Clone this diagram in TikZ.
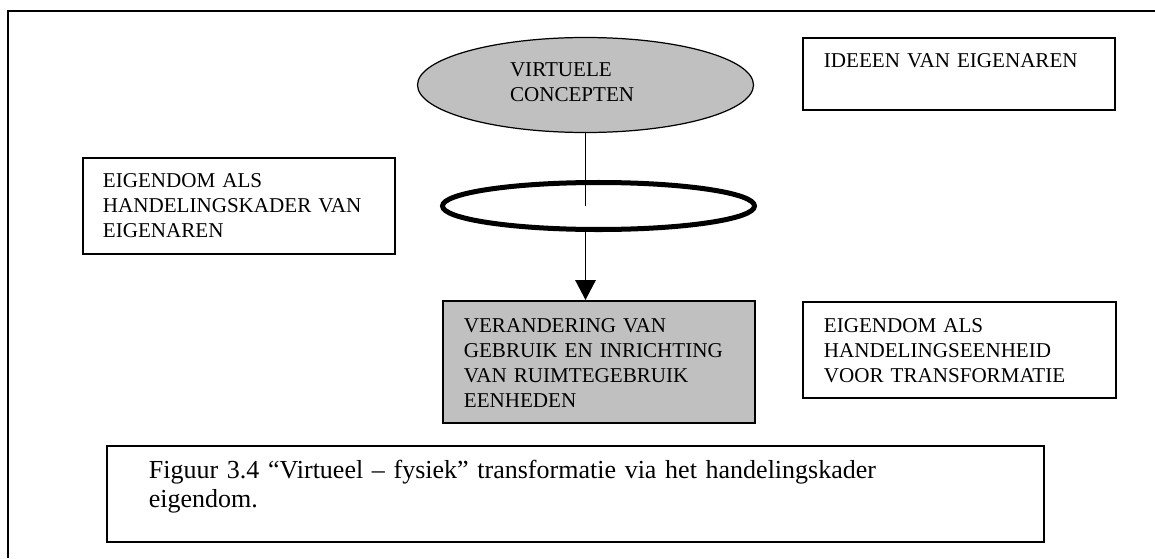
\documentclass[tikz,border=0pt]{standalone}
\usepackage{fontspec}
\setmainfont{Liberation Serif}
\usetikzlibrary{positioning, shapes.geometric, arrows.meta}
\definecolor{grijs}{HTML}{C0C0C0}

\begin{document}
\begin{tikzpicture}[
        kader/.style={rectangle, draw, line width=1pt, anchor=north west, align=left, inner ysep=0pt, inner xsep=0.42cm, font=\fontsize{12}{14.2}\selectfont},
        concept/.style={ellipse, draw, fill=grijs, line width=0.7pt, align=left, inner sep=0pt, font=\fontsize{12}{14.2}\selectfont},
        kring/.style={ellipse, draw, line width=2.85pt, inner sep=0pt},
        lijn/.style={line width=0.6pt},
        pijl/.style={-{Triangle[length=4mm, width=4.1mm]}, line width=0.85pt}
    ]

    \useasboundingbox (0,0) rectangle (23.1,11.16);

    % Outer frame (only left and top edge visible)
    \draw[line width=1.4pt] (0.16,0) |- (23.1,10.94);

    % Centre column
    \node[concept, text width=3.02cm, text height=0.28cm, text depth=0.6cm, minimum width=6.72cm, minimum height=1.9cm] (virtueel) at (11.71,9.46) {VIRTUELE\\CONCEPTEN};
    \node[kring, minimum width=6.24cm, minimum height=0.94cm] (eigendom) at (11.97,7.04) {};
    \node[kader, fill=grijs, text width=5.4cm, text height=0.64cm, text depth=1.8cm] (verandering) at (8.84,5.16) {VERANDERING VAN\\GEBRUIK EN INRICHTING\\VAN RUIMTEGEBRUIK\\EENHEDEN};

    % Side boxes
    \node[kader, text width=5.44cm, inner xsep=0.4cm, text height=0.594cm, text depth=1.326cm] (handelingskader) at (1.64,8.02) {EIGENDOM ALS\\HANDELINGSKADER VAN\\EIGENAREN};
    \node[kader, text width=5.4cm, text height=0.6cm, text depth=0.84cm] (ideeen) at (16.04,10.42) {IDEEEN VAN EIGENAREN};
    \node[kader, text width=5.42cm, text height=0.614cm, text depth=1.306cm] (eenheid) at (16.04,5.14) {EIGENDOM ALS\\HANDELINGSEENHEID\\VOOR TRANSFORMATIE};

    % Caption
    \node[kader, text width=17.06cm, inner xsep=0.84cm, text height=0.66cm, text depth=1.26cm, font=\fontsize{14.8}{16.5}\selectfont] (figuur) at (2.12,2.26) {Figuur 3.4 “Virtueel – fysiek” transformatie via het handelingskader\\eigendom.};

    % Connectors
    \draw[lijn] (virtueel.south) -- (virtueel.south |- eigendom.center);
    \draw[pijl] (virtueel.south |- eigendom.south) -- (virtueel.south |- verandering.north);

\end{tikzpicture}
\end{document}
